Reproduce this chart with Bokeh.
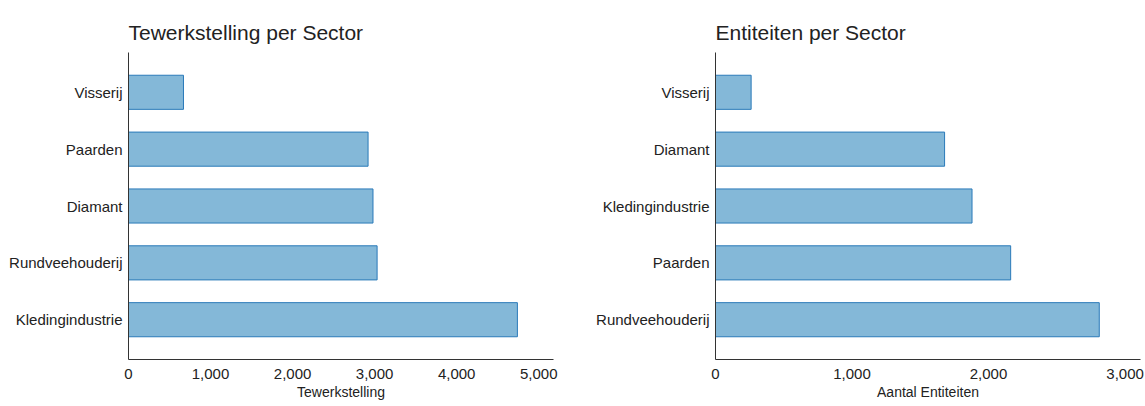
from bokeh.plotting import figure
from bokeh.layouts import row
from bokeh.models import FactorRange, Range1d, FixedTicker, NumeralTickFormatter
from bokeh.embed import file_html
from bokeh.resources import INLINE

# Data (top-to-bottom order as shown)
emp_sectors = ["Visserij", "Paarden", "Diamant", "Rundveehouderij", "Kledingindustrie"]
emp_values = [670, 2920, 2980, 3030, 4740]

ent_sectors = ["Visserij", "Diamant", "Kledingindustrie", "Paarden", "Rundveehouderij"]
ent_values = [261, 1678, 1879, 2162, 2811]

emp_ticks = [0, 1000, 2000, 3000, 4000, 5000]
ent_ticks = [0, 1000, 2000, 3000]

FONT = "Liberation Sans"
FILL = "#84b8d8"
EDGE = "#2a7ab9"
TXT = "#222222"


def make(title, cats, vals, ticks, xend, xlabel, width, mbl, mbr):
    yr = FactorRange(factors=list(reversed(cats)), range_padding=0.2,
                     range_padding_units="absolute")
    p = figure(width=width, height=406, y_range=yr, x_range=Range1d(0, xend),
               output_backend="svg", toolbar_location=None, title=title,
               min_border_left=mbl, min_border_right=mbr,
               min_border_top=52, min_border_bottom=47)
    p.hbar(y=cats, right=vals, left=0, height=0.6, fill_color=FILL,
           line_color=EDGE, line_width=1)
    p.outline_line_color = None
    p.xgrid.grid_line_color = None
    p.ygrid.grid_line_color = None
    p.title.text_font = FONT
    p.title.text_font_size = "21px"
    p.title.text_font_style = "normal"
    p.title.text_color = TXT
    p.title.standoff = 17
    for ax in (p.xaxis[0], p.yaxis[0]):
        ax.axis_line_color = "#333333"
        ax.major_tick_line_color = None
        ax.minor_tick_line_color = None
        ax.major_tick_out = 0
        ax.major_tick_in = 0
        ax.minor_tick_out = 0
        ax.major_label_text_font = FONT
        ax.major_label_text_font_size = "15px"
        ax.major_label_text_color = TXT
    p.yaxis[0].major_label_standoff = 6
    p.xaxis[0].major_label_standoff = 9
    p.xaxis[0].ticker = FixedTicker(ticks=ticks)
    p.xaxis[0].formatter = NumeralTickFormatter(format="0,0")
    p.xaxis[0].axis_label = xlabel
    p.xaxis[0].axis_label_text_font = FONT
    p.xaxis[0].axis_label_text_font_size = "14px"
    p.xaxis[0].axis_label_text_font_style = "normal"
    p.xaxis[0].axis_label_text_color = TXT
    p.xaxis[0].axis_label_standoff = 2
    return p


p1 = make("Tewerkstelling per Sector", emp_sectors, emp_values, emp_ticks,
          5180, "Tewerkstelling", 580, 128, 27)
p2 = make("Entiteiten per Sector", ent_sectors, ent_values, ent_ticks,
          3113, "Aantal Entiteiten", 565, 135, 5)

layout = row(p1, p2)
open("out.html", "w").write(file_html(layout, INLINE))
